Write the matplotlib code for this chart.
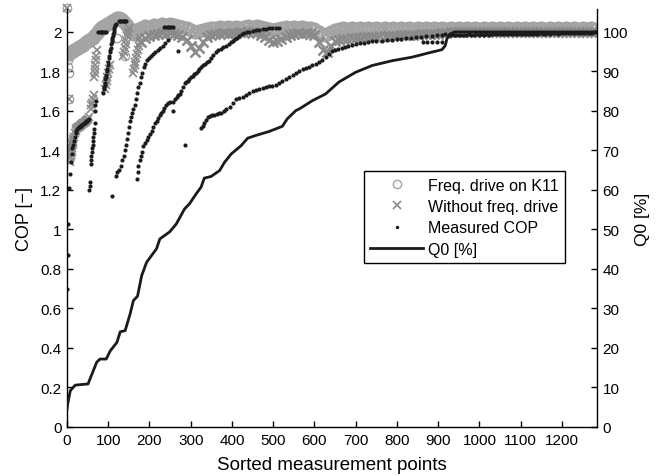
import matplotlib
matplotlib.use('Agg')
import matplotlib.pyplot as plt
from matplotlib.lines import Line2D

plt.rcParams['font.family'] = ['Liberation Sans', 'DejaVu Sans']

# ---------------- data ----------------
# Q0 [%] line (sorted measurement point index, percent)
q0_x = [0, 2, 8, 20, 51, 72, 80, 95, 105, 121, 129, 141, 153, 161, 171, 181, 193, 205, 217, 225,
        249, 265, 285, 297, 313, 325, 333, 349, 370, 382, 398, 422, 438, 458, 490, 522, 534, 555,
        563, 595, 627, 659, 700, 740, 788, 836, 885, 909, 917, 921, 929, 940, 1290]
q0_y = [4.5, 6.0, 9.2, 10.6, 10.9, 16.4, 17.2, 17.2, 19.3, 21.4, 24.1, 24.4, 28.6, 32.0, 33.1, 38.3,
        41.7, 43.4, 45.1, 47.6, 49.4, 51.4, 55.2, 56.5, 59.0, 60.7, 63.0, 63.4, 64.9, 67.0, 69.1,
        71.2, 73.1, 73.8, 74.8, 76.1, 78.0, 80.1, 80.5, 82.6, 84.3, 87.3, 89.8, 91.5, 92.7, 93.6,
        94.9, 95.5, 96.5, 98.2, 99.5, 100.0, 100.0]

# Measured COP, branch by branch
cop1_x = [1, 2, 3, 5, 7, 9, 11, 13, 15, 17, 19, 21, 23, 25, 27, 29, 31, 33, 35, 37, 39, 41, 43, 45,
          47, 49, 51, 53]
cop1_y = [0.70, 0.87, 1.03, 1.21, 1.28, 1.34, 1.38, 1.41, 1.43, 1.45, 1.47, 1.49, 1.50, 1.51, 1.515,
          1.52, 1.52, 1.525, 1.53, 1.53, 1.535, 1.54, 1.54, 1.545, 1.55, 1.55, 1.555, 1.56]
cop2_x = [54, 55, 56, 57, 58, 59, 60, 61, 62, 63, 64, 65, 66, 67, 68, 69, 70]
cop2_y = [1.20, 1.22, 1.24, 1.33, 1.35, 1.37, 1.39, 1.41, 1.43, 1.45, 1.47, 1.49, 1.51, 1.54, 1.60,
          1.63, 1.65]
cop_dash_x = [76, 79, 82, 85, 88, 91, 94, 126, 129, 132, 135, 138, 141, 144,
              236, 240, 244, 248, 252, 256, 862, 874, 886, 898, 910, 257, 269]
cop_dash_y = [2.0, 2.0, 2.0, 2.0, 2.0, 2.0, 2.0, 2.057, 2.057, 2.057, 2.057, 2.057, 2.057, 2.057,
              2.025, 2.025, 2.025, 2.025, 2.025, 2.025, 1.95, 1.95, 1.95, 1.95, 1.95, 1.60, 1.905]
cop3_x = [88, 89, 90, 91, 92, 93, 94, 95, 96, 97, 99, 100, 102, 103, 104, 105, 106, 107, 108, 109,
          110, 111, 112, 113, 114, 115, 116, 117, 118]
cop3_y = [1.69, 1.71, 1.72, 1.73, 1.74, 1.76, 1.77, 1.78, 1.80, 1.81, 1.83, 1.85, 1.87, 1.88, 1.90,
          1.91, 1.92, 1.94, 1.95, 1.96, 1.97, 1.98, 1.99, 2.00, 2.01, 2.02, 2.03, 2.035, 2.04]
cop4_x = [110, 119, 122, 125, 130, 134, 137, 140, 143, 146, 148, 150, 152, 155, 158, 161, 164, 167,
          170, 173, 176, 179, 182, 186, 190, 194, 198, 203, 208, 214, 220, 226, 232, 238, 244]
cop4_y = [1.17, 1.27, 1.29, 1.30, 1.32, 1.35, 1.37, 1.40, 1.43, 1.46, 1.49, 1.52, 1.55, 1.57, 1.59,
          1.61, 1.63, 1.66, 1.69, 1.72, 1.74, 1.77, 1.79, 1.82, 1.84, 1.86, 1.87, 1.88, 1.89, 1.90,
          1.91, 1.92, 1.93, 1.945, 1.96]
cop5_x = [169, 171, 173, 176, 179, 181, 185, 189, 193, 197, 201, 205, 209, 213, 217, 221, 225, 229,
          232, 236, 240, 245, 250, 256, 261, 266, 270, 273, 277, 281, 285, 289, 293, 297, 301, 305,
          309, 313, 317, 321, 325, 330, 335, 340, 345, 350, 355, 361, 367, 373, 379, 386, 392, 397,
          402, 407, 413, 418, 424, 430, 436, 442, 450, 458, 466, 474, 482, 490, 498, 506, 514]
cop5_y = [1.256, 1.29, 1.32, 1.35, 1.37, 1.39, 1.42, 1.44, 1.455, 1.47, 1.485, 1.50, 1.52, 1.54,
          1.55, 1.565, 1.58, 1.59, 1.60, 1.615, 1.63, 1.64, 1.643, 1.645, 1.66, 1.67, 1.68, 1.686,
          1.70, 1.72, 1.74, 1.745, 1.75, 1.76, 1.77, 1.775, 1.785, 1.79, 1.80, 1.81, 1.82, 1.83,
          1.84, 1.85, 1.855, 1.87, 1.885, 1.90, 1.91, 1.915, 1.925, 1.93, 1.94, 1.95, 1.956, 1.965,
          1.97, 1.98, 1.99, 1.995, 1.998, 2.0, 2.005, 2.008, 2.01, 2.013, 2.016, 2.02, 2.02, 2.02,
          2.02]
cop6_x = [287, 325, 329, 333, 337, 341, 346, 351, 357, 363, 369, 374, 380, 386, 394, 402, 410, 418,
          426, 434, 442, 450, 458, 466, 474, 482, 490, 498, 506, 514, 522, 531, 539, 547, 555, 563,
          571, 579, 587, 595, 603, 611, 619, 627, 635, 642, 650, 658, 666, 674, 682, 690, 700, 710,
          720, 730, 740, 750, 763, 775, 787, 799, 811, 823, 835, 847, 859, 871, 884, 896, 908, 917]
cop6_y = [1.43, 1.515, 1.525, 1.54, 1.555, 1.57, 1.575, 1.578, 1.58, 1.585, 1.588, 1.59, 1.60, 1.61,
          1.62, 1.64, 1.66, 1.665, 1.672, 1.68, 1.69, 1.70, 1.705, 1.71, 1.715, 1.72, 1.725, 1.728,
          1.73, 1.74, 1.75, 1.76, 1.77, 1.78, 1.79, 1.80, 1.81, 1.815, 1.82, 1.83, 1.84, 1.85, 1.86,
          1.875, 1.89, 1.905, 1.91, 1.915, 1.92, 1.925, 1.93, 1.935, 1.94, 1.943, 1.946, 1.95,
          1.952, 1.954, 1.956, 1.958, 1.96, 1.962, 1.965, 1.968, 1.97, 1.972, 1.975, 1.977, 1.98,
          1.983, 1.986, 1.99]
cop_tail_x = list(range(926, 1286, 6))
cop_tail_y = [1.982, 1.985, 1.983, 1.986, 1.984, 1.985, 1.986, 1.984, 1.987, 1.985,
              1.986, 1.987, 1.985, 1.987, 1.986, 1.988, 1.986, 1.987, 1.988, 1.987,
              1.988, 1.989, 1.987, 1.988, 1.989, 1.988, 1.99, 1.989, 1.988, 1.99,
              1.989, 1.99, 1.991, 1.99, 1.989, 1.991, 1.99, 1.992, 1.991, 1.99,
              1.992, 1.991, 1.993, 1.992, 1.991, 1.993, 1.992, 1.994, 1.993, 1.992,
              1.994, 1.993, 1.995, 1.994, 1.995, 1.996, 1.995, 1.996, 1.997, 1.998]

# Freq. drive on K11 (open circles)
freq_early_x = [1, 2, 3, 4, 5, 8, 10, 12, 121, 140]
freq_early_y = [1.89, 1.86, 1.82, 1.79, 1.66, 1.36, 1.38, 1.42, 1.97, 1.88]
freq_band1_x = list(range(6, 178, 4))
freq_band1_y = [1.89, 1.90, 1.905, 1.91, 1.915, 1.92, 1.925, 1.93, 1.935, 1.94, 1.95, 1.955, 1.96,
                1.965, 1.97, 1.98, 1.99, 2.0, 2.01, 2.02, 2.025, 2.03, 2.035, 2.04, 2.045, 2.05,
                2.055, 2.06, 2.065, 2.07, 2.07, 2.065, 2.06, 2.05, 2.04, 2.03, 2.02, 2.01, 2.0,
                1.99, 2.0, 2.01, 2.015]
freq_band2_x = list(range(180, 1281, 10))
freq_band2_y = [2.02, 2.03, 2.025, 2.035, 2.03, 2.04, 2.035, 2.04, 2.035, 2.03,
                2.025, 2.02, 2.01, 2.0, 2.005, 2.01, 2.015, 2.02, 2.02, 2.025,
                2.02, 2.025, 2.02, 2.025, 2.02, 2.025, 2.03, 2.025, 2.03, 2.025,
                2.02, 2.015, 2.01, 2.015, 2.02, 2.025, 2.02, 2.025, 2.02, 2.025,
                2.02, 2.02, 2.015, 2.0, 1.985, 1.99, 2.0, 2.01, 2.015, 2.02,
                2.015, 2.02, 2.015, 2.02, 2.015, 2.02, 2.015, 2.02, 2.015, 2.02,
                2.015, 2.02, 2.015, 2.02, 2.015, 2.02, 2.015, 2.02, 2.015, 2.02,
                2.015, 2.02, 2.015, 2.02, 2.015, 2.02, 2.015, 2.02, 2.015, 2.02,
                2.015, 2.02, 2.015, 2.02, 2.015, 2.02, 2.015, 2.02, 2.015, 2.02,
                2.015, 2.02, 2.015, 2.02, 2.015, 2.02, 2.015, 2.02, 2.015, 2.02,
                2.015, 2.02, 2.015, 2.02, 2.015, 2.02, 2.015, 2.02, 2.015, 2.02,
                2.015]

# Without freq. drive (x markers)
nofreq_early_x = [5, 6, 7, 8, 9, 10, 11, 12, 13, 14, 15, 17, 19, 21, 23, 25, 27, 29, 31, 33, 35,
                  37, 39, 41, 43, 45, 47, 49, 51, 53,
                  57, 59, 61, 63, 65,
                  66, 67, 68, 69, 70, 71, 72,
                  92, 94, 96, 98, 100, 102, 104,
                  136, 138, 140, 142, 144, 146, 148, 150,
                  160, 162, 164, 166, 168, 170, 172, 174, 176, 178]
nofreq_early_y = [1.66, 1.36, 1.34, 1.37, 1.39, 1.40, 1.41, 1.43, 1.44, 1.45, 1.46, 1.47, 1.49,
                  1.50, 1.51, 1.515, 1.52, 1.52, 1.525, 1.53, 1.53, 1.535, 1.54, 1.54, 1.545, 1.55,
                  1.55, 1.555, 1.56, 1.57,
                  1.61, 1.63, 1.64, 1.66, 1.68,
                  1.77, 1.79, 1.81, 1.83, 1.86, 1.88, 1.91,
                  1.71, 1.73, 1.75, 1.77, 1.79, 1.81, 1.83,
                  1.88, 1.90, 1.92, 1.94, 1.96, 1.98, 2.0, 2.02,
                  1.79, 1.81, 1.83, 1.85, 1.87, 1.89, 1.91, 1.93, 1.95, 1.97]
nofreq_band_x = list(range(180, 1281, 10))
nofreq_band_y = [1.95, 1.97, 1.98, 1.985, 1.99, 1.995, 1.99, 1.995, 1.99, 1.985,
                 1.975, 1.96, 1.93, 1.90, 1.92, 1.95, 1.975, 1.985, 1.99, 1.99,
                 1.995, 1.99, 1.995, 1.995, 2.0, 1.995, 2.0, 2.0, 1.995, 1.985,
                 1.975, 1.96, 1.95, 1.955, 1.965, 1.975, 1.985, 1.99, 1.995, 1.99,
                 1.995, 1.99, 1.985, 1.95, 1.91, 1.90, 1.93, 1.955, 1.96, 1.965,
                 1.965, 1.97, 1.97, 1.97, 1.975, 1.975, 1.975, 1.975, 1.98, 1.98,
                 1.98, 1.98, 1.98, 1.985, 1.985, 1.985, 1.985, 1.985, 1.99, 1.99,
                 1.99, 1.99, 1.99, 1.995, 1.995, 2.0, 2.0, 2.0, 2.0, 2.0,
                 2.0, 2.0, 2.0, 2.0, 2.0, 2.0, 2.0, 2.0, 2.0, 2.0,
                 2.0, 2.0, 2.0, 2.0, 2.0, 2.0, 2.0, 2.0, 2.0, 2.0,
                 2.0, 2.0, 2.0, 2.0, 2.0, 2.0, 2.0, 2.0, 2.0, 2.0,
                 2.0]

# out-of-range point drawn at the top edge (both model series)
top_x = [0]
top_y = [2.12]

x_ticks = list(range(0, 1201, 100))
cop_ticks = [0, 0.2, 0.4, 0.6, 0.8, 1.0, 1.2, 1.4, 1.6, 1.8, 2.0]
cop_ticklabels = ['0', '0.2', '0.4', '0.6', '0.8', '1', '1.2', '1.4', '1.6', '1.8', '2']
q0_ticks = list(range(0, 101, 10))

# ---------------- style ----------------
C_FREQ = '#a4a4a4'
C_NOFREQ = '#8a8a8a'
C_DOT = '#1c1c1c'
C_LINE = '#1a1a1a'

fig = plt.figure(figsize=(6.56, 4.77), dpi=100)
ax = fig.add_axes([67/656, 49/477, 530/656, 418/477])
ax2 = ax.twinx()

circ_band = dict(ls='none', marker='o', ms=8, mfc='none', mec=C_FREQ, mew=2.2)
x_band = dict(ls='none', marker='x', ms=7, color=C_NOFREQ, mew=1.8)
circ_kw = dict(ls='none', marker='o', ms=6, mfc='none', mec=C_FREQ, mew=1.0)
x_kw = dict(ls='none', marker='x', ms=6, color=C_NOFREQ, mew=1.2)
dot_kw = dict(ls='none', marker='o', ms=3.0, color=C_DOT, mew=0)

ax.plot(freq_band1_x, freq_band1_y, **circ_band)
ax.plot(freq_band2_x, freq_band2_y, **circ_band)
ax.plot(nofreq_band_x, nofreq_band_y, **x_band)
ax.plot(freq_early_x, freq_early_y, **circ_kw)
ax.plot(nofreq_early_x, nofreq_early_y, **x_kw)
ax.plot(top_x, top_y, clip_on=False, **circ_kw)
ax.plot(top_x, top_y, clip_on=False, **x_kw)

for bx, by in [(cop1_x, cop1_y), (cop2_x, cop2_y), (cop_dash_x, cop_dash_y), (cop3_x, cop3_y),
               (cop4_x, cop4_y), (cop5_x, cop5_y), (cop6_x, cop6_y), (cop_tail_x, cop_tail_y)]:
    ax.plot(bx, by, **dot_kw)

ax2.plot(q0_x, q0_y, color=C_LINE, lw=2.0, solid_joinstyle='round')

ax.set_xlim(0, 1285)
ax.set_ylim(0, 2.116)
ax2.set_ylim(0, 105.8)

ax.set_xticks(x_ticks)
ax.set_yticks(cop_ticks)
ax.set_yticklabels(cop_ticklabels)
ax2.set_yticks(q0_ticks)

for a in (ax, ax2):
    a.spines['top'].set_visible(False)
    for s in a.spines.values():
        s.set_linewidth(1.0)
ax.spines['right'].set_visible(False)
ax2.spines['left'].set_visible(False)
ax2.spines['bottom'].set_visible(False)

ax.tick_params(axis='both', direction='in', length=4, width=1.0, labelsize=11, pad=4)
ax2.tick_params(axis='y', direction='in', length=4, width=1.0, labelsize=11, pad=4)

ax.set_xlabel('Sorted measurement points', fontsize=13.5, labelpad=7)
ax.set_ylabel('COP [\u2212]', fontsize=13, labelpad=5)
ax2.set_ylabel('Q0 [%]', fontsize=12.5, labelpad=5)

handles = [Line2D([], [], **circ_kw), Line2D([], [], **x_kw),
           Line2D([], [], ls='none', marker='o', ms=2.5, color=C_DOT, mew=0),
           Line2D([], [], color=C_LINE, lw=2.0)]
labels = ['Freq. drive on K11', 'Without freq. drive', 'Measured COP', 'Q0 [%]']
leg = ax2.legend(handles, labels, loc='upper left', bbox_to_anchor=(0.56, 0.612),
                 borderaxespad=0, frameon=True, fancybox=False, edgecolor='black',
                 framealpha=1, fontsize=11.5, handlelength=3.3, handletextpad=0.3,
                 labelspacing=0.4, borderpad=0.4)
leg.get_frame().set_linewidth(1.0)

fig.savefig('out.png', dpi=100)
